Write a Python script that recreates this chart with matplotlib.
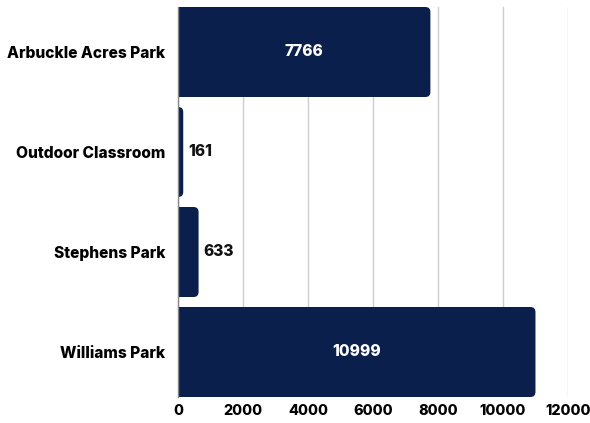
import matplotlib
matplotlib.use("Agg")
import matplotlib.pyplot as plt
from matplotlib.patches import FancyBboxPatch

categories = ["Arbuckle Acres Park", "Outdoor Classroom", "Stephens Park", "Williams Park"]
values = [7766, 161, 633, 10999]
xticks = [0, 2000, 4000, 6000, 8000, 10000, 12000]

plt.rcParams['font.family'] = ['Inter', 'DejaVu Sans']
BAR = "#0a1f4b"
FS = 11.2
FW = "heavy"

fig = plt.figure(figsize=(5.9, 4.23), dpi=100)
ax = fig.add_axes([178/590, 1-397/423, 390/590, 390/423])

bars = ax.barh(categories, values, height=0.9, color=BAR, zorder=3)
ax.set_xlim(0, 12000)
ax.set_ylim(3.45, -0.45)

# rounded right corners
px_x = 12000 / 390
px_y = 3.9 / 390
r_px = 5
for rect in bars:
    x, y, w, h = rect.get_x(), rect.get_y(), rect.get_width(), rect.get_height()
    r = r_px * px_x
    p = FancyBboxPatch((x - 2*r, y), w + 2*r, h,
                       boxstyle=f"round,pad=0,rounding_size={r}",
                       mutation_aspect=px_y/px_x,
                       fc=BAR, ec="none", zorder=3, clip_on=True)
    ax.add_patch(p)
    rect.set_visible(False)

for rect, v in zip(bars, values):
    cy = rect.get_y() + rect.get_height()/2
    if v > 3000:
        ax.text(v/2, cy, str(v), ha="center", va="center", color="white",
                fontsize=FS, fontweight=FW, zorder=4)
    else:
        ax.annotate(str(v), (v, cy), xytext=(3.5, 0), textcoords="offset points",
                    ha="left", va="center", color="#111111",
                    fontsize=FS, fontweight=FW, zorder=4)

ax.set_xticks(xticks)
ax.set_xticklabels([str(t) for t in xticks], fontsize=10.4, fontweight=FW)
ax.tick_params(axis="both", length=0)
ax.tick_params(axis="y", pad=9, labelsize=FS)
for lab in ax.get_yticklabels():
    lab.set_fontweight(FW)
ax.tick_params(axis="x", pad=5)
ax.grid(axis="x", color="#cccccc", linewidth=1, zorder=0)
for s in ["top", "right", "bottom"]:
    ax.spines[s].set_visible(False)
ax.spines["left"].set_color("#888888")
ax.spines["left"].set_linewidth(1)
ax.spines["left"].set_zorder(5)

fig.savefig("out.png", dpi=100)
